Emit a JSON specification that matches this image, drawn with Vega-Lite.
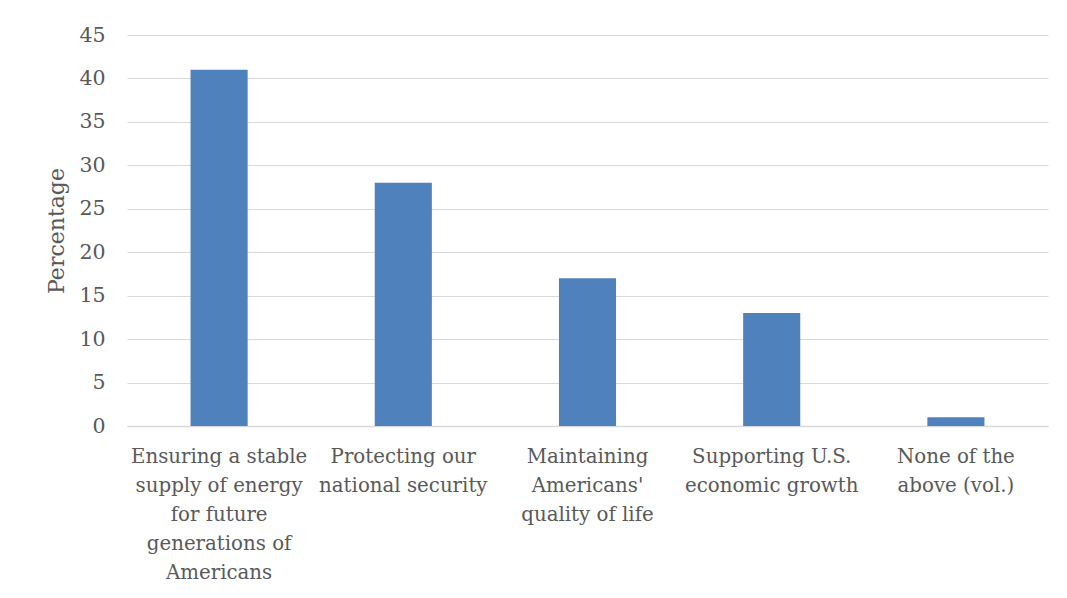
{
  "$schema": "https://vega.github.io/schema/vega-lite/v6.json",
  "width": 921,
  "height": 391,
  "autosize": {"type": "none"},
  "padding": {"left": 127, "top": 35, "right": 19, "bottom": 172},
  "background": "white",
  "config": {
    "view": {"stroke": null},
    "font": "DejaVu Serif",
    "axis": {
      "labelFont": "DejaVu Serif",
      "titleFont": "DejaVu Serif",
      "labelColor": "#595959",
      "titleColor": "#595959",
      "gridColor": "#d9d9d9",
      "domainColor": "#d9d9d9",
      "ticks": false
    }
  },
  "data": {
    "values": [
      {"category": "Ensuring a stable supply of energy for future generations of Americans", "percentage": 41},
      {"category": "Protecting our national security", "percentage": 28},
      {"category": "Maintaining Americans' quality of life", "percentage": 17},
      {"category": "Supporting U.S. economic growth", "percentage": 13},
      {"category": "None of the above (vol.)", "percentage": 1}
    ]
  },
  "mark": {"type": "bar", "color": "#4f81bd"},
  "encoding": {
    "x": {
      "field": "category",
      "type": "nominal",
      "sort": null,
      "scale": {"paddingInner": 0.69, "paddingOuter": 0.345},
      "axis": {
        "title": null,
        "labelAngle": 0,
        "labelFontSize": 19.8,
        "labelPadding": 20,
        "labelLineHeight": 29,
        "labelBaseline": "top",
        "labelLimit": 300,
        "domainWidth": 1.5,
        "labelExpr": "datum.value == 'Ensuring a stable supply of energy for future generations of Americans' ? ['Ensuring a stable', 'supply of energy', 'for future', 'generations of', 'Americans'] : datum.value == 'Protecting our national security' ? ['Protecting our', 'national security'] : datum.value == \"Maintaining Americans' quality of life\" ? ['Maintaining', \"Americans'\", 'quality of life'] : datum.value == 'Supporting U.S. economic growth' ? ['Supporting U.S.', 'economic growth'] : ['None of the', 'above (vol.)']"
      }
    },
    "y": {
      "field": "percentage",
      "type": "quantitative",
      "scale": {"domain": [0, 45]},
      "axis": {
        "title": "Percentage",
        "values": [0, 5, 10, 15, 20, 25, 30, 35, 40, 45],
        "labelFontSize": 20.5,
        "titleFontSize": 22,
        "titleFontWeight": "normal",
        "labelPadding": 22,
        "titlePadding": 10,
        "domain": false
      }
    }
  }
}
